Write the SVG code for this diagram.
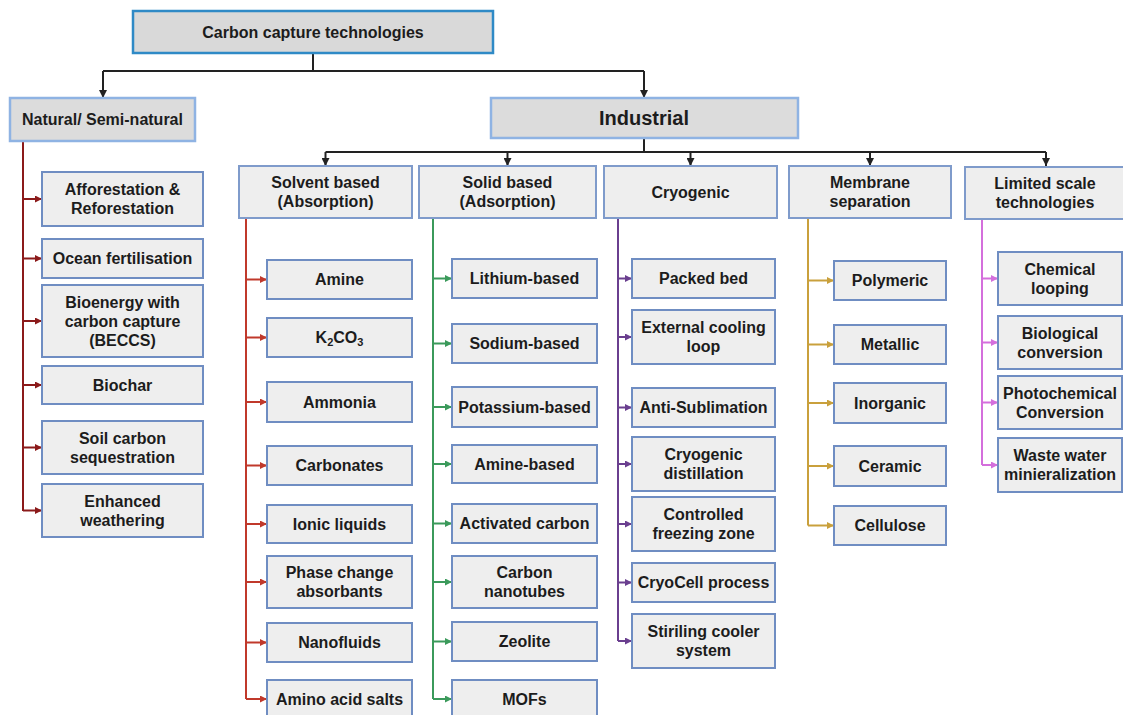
<svg xmlns="http://www.w3.org/2000/svg" width="1123" height="715" viewBox="0 0 1123 715">
<style>
text{font-family:"Liberation Sans",Arial,sans-serif;font-weight:bold;fill:#1c1c1c;text-anchor:middle;font-size:16px}
.leaf{fill:#eeeeee;stroke:#6f8dc2;stroke-width:2}
.sub{fill:#eeeeee;stroke:#7f9bcb;stroke-width:2}
.top{fill:#d9d9d9;stroke:#2f8ac6;stroke-width:2.5}
.main{fill:#dcdcdc;stroke:#8fb3e3;stroke-width:2.5}
.c{fill:none;stroke-width:2}
.k{stroke:#222;marker-end:url(#ak)}
.kl{stroke:#222}
.nr{stroke:#8b1a1a}.nra{stroke:#8b1a1a;marker-end:url(#anr)}
.sv{stroke:#c0392b}.sva{stroke:#c0392b;marker-end:url(#asv)}
.sd{stroke:#3b9a5b}.sda{stroke:#3b9a5b;marker-end:url(#asd)}
.cy{stroke:#6a3f8f}.cya{stroke:#6a3f8f;marker-end:url(#acy)}
.mb{stroke:#c9a03c}.mba{stroke:#c9a03c;marker-end:url(#amb)}
.ls{stroke:#d46fdc}.lsa{stroke:#d46fdc;marker-end:url(#als)}
</style>
<defs>
<marker id="ak" markerUnits="userSpaceOnUse" markerWidth="8" markerHeight="8" refX="8" refY="4" orient="auto"><path d="M0,0 L8,4 L0,8 z" fill="#222"/></marker>
<marker id="anr" markerUnits="userSpaceOnUse" markerWidth="7" markerHeight="7" refX="7" refY="3.5" orient="auto"><path d="M0,0 L7,3.5 L0,7 z" fill="#8b1a1a"/></marker>
<marker id="asv" markerUnits="userSpaceOnUse" markerWidth="7" markerHeight="7" refX="7" refY="3.5" orient="auto"><path d="M0,0 L7,3.5 L0,7 z" fill="#c0392b"/></marker>
<marker id="asd" markerUnits="userSpaceOnUse" markerWidth="7" markerHeight="7" refX="7" refY="3.5" orient="auto"><path d="M0,0 L7,3.5 L0,7 z" fill="#3b9a5b"/></marker>
<marker id="acy" markerUnits="userSpaceOnUse" markerWidth="7" markerHeight="7" refX="7" refY="3.5" orient="auto"><path d="M0,0 L7,3.5 L0,7 z" fill="#6a3f8f"/></marker>
<marker id="amb" markerUnits="userSpaceOnUse" markerWidth="7" markerHeight="7" refX="7" refY="3.5" orient="auto"><path d="M0,0 L7,3.5 L0,7 z" fill="#c9a03c"/></marker>
<marker id="als" markerUnits="userSpaceOnUse" markerWidth="7" markerHeight="7" refX="7" refY="3.5" orient="auto"><path d="M0,0 L7,3.5 L0,7 z" fill="#d46fdc"/></marker>
</defs>
<rect width="1123" height="715" fill="#ffffff"/>

<g id="connectors">
<path class="c kl" d="M313,53 V71 M103,71 H644 M644,138 V152 M325.5,152 H1046"/>
<path class="c k" d="M103,71 V98"/>
<path class="c k" d="M644,71 V98"/>
<path class="c k" d="M325.5,152 V166"/>
<path class="c k" d="M507.5,152 V166"/>
<path class="c k" d="M690.5,152 V166"/>
<path class="c k" d="M870,152 V166"/>
<path class="c k" d="M1046,152 V166"/>
<path class="c nr" d="M23,141 V511"/>
<path class="c nra" d="M23,199 H42"/><path class="c nra" d="M23,258.5 H42"/><path class="c nra" d="M23,321 H42"/><path class="c nra" d="M23,385 H42"/><path class="c nra" d="M23,447.5 H42"/><path class="c nra" d="M23,510.5 H42"/>
<path class="c sv" d="M246,218 V699"/>
<path class="c sva" d="M246,279.5 H267"/><path class="c sva" d="M246,337.5 H267"/><path class="c sva" d="M246,402 H267"/><path class="c sva" d="M246,465.5 H267"/><path class="c sva" d="M246,524 H267"/><path class="c sva" d="M246,582 H267"/><path class="c sva" d="M246,642.5 H267"/><path class="c sva" d="M246,699 H267"/>
<path class="c sd" d="M433,218 V699"/>
<path class="c sda" d="M433,278.5 H452"/><path class="c sda" d="M433,343.5 H452"/><path class="c sda" d="M433,407 H452"/><path class="c sda" d="M433,464 H452"/><path class="c sda" d="M433,523.5 H452"/><path class="c sda" d="M433,582 H452"/><path class="c sda" d="M433,641.5 H452"/><path class="c sda" d="M433,699 H452"/>
<path class="c cy" d="M618,218 V641"/>
<path class="c cya" d="M618,278.5 H632"/><path class="c cya" d="M618,337 H632"/><path class="c cya" d="M618,407.5 H632"/><path class="c cya" d="M618,464 H632"/><path class="c cya" d="M618,524 H632"/><path class="c cya" d="M618,582.5 H632"/><path class="c cya" d="M618,641 H632"/>
<path class="c mb" d="M808,218 V525.5"/>
<path class="c mba" d="M808,280.5 H834"/><path class="c mba" d="M808,344.5 H834"/><path class="c mba" d="M808,403 H834"/><path class="c mba" d="M808,466 H834"/><path class="c mba" d="M808,525.5 H834"/>
<path class="c ls" d="M982,219 V465"/>
<path class="c lsa" d="M982,278.5 H998"/><path class="c lsa" d="M982,342.5 H998"/><path class="c lsa" d="M982,402.5 H998"/><path class="c lsa" d="M982,465 H998"/>
</g>

<g id="n-root"><rect class="top" x="133" y="11" width="360" height="42"/><text x="313" y="37.5">Carbon capture technologies</text></g>
<g id="n-natural"><rect class="main" x="10" y="98" width="185" height="43"/><text x="102.5" y="125">Natural/ Semi-natural</text></g>
<g id="n-industrial"><rect class="main" x="491" y="98" width="307" height="40"/><text x="644" y="125" style="font-size:20px">Industrial</text></g>

<g id="n-solvent"><rect class="sub" x="239" y="166" width="173" height="52"/><text x="325.5" y="188">Solvent based</text><text x="325.5" y="207">(Absorption)</text></g>
<g id="n-solid"><rect class="sub" x="419" y="166" width="177" height="52"/><text x="507.5" y="188">Solid based</text><text x="507.5" y="207">(Adsorption)</text></g>
<g id="n-cryogenic"><rect class="sub" x="604" y="166" width="173" height="52"/><text x="690.5" y="197.5">Cryogenic</text></g>
<g id="n-membrane"><rect class="sub" x="789" y="166" width="162" height="52"/><text x="870" y="188">Membrane</text><text x="870" y="207">separation</text></g>
<g id="n-limited"><rect class="sub" x="965" y="167" width="162" height="52"/><text x="1045" y="189">Limited scale</text><text x="1045" y="208">technologies</text></g>

<g id="n-afforestation"><rect class="leaf" x="42" y="172" width="161" height="54"/><text x="122.5" y="195">Afforestation &amp;</text><text x="122.5" y="214">Reforestation</text></g>
<g id="n-ocean"><rect class="leaf" x="42" y="239" width="161" height="39"/><text x="122.5" y="264">Ocean fertilisation</text></g>
<g id="n-beccs"><rect class="leaf" x="42" y="285" width="161" height="72"/><text x="122.5" y="307.5">Bioenergy with</text><text x="122.5" y="326.5">carbon capture</text><text x="122.5" y="345.5">(BECCS)</text></g>
<g id="n-biochar"><rect class="leaf" x="42" y="366" width="161" height="38"/><text x="122.5" y="390.5">Biochar</text></g>
<g id="n-soil"><rect class="leaf" x="42" y="421" width="161" height="53"/><text x="122.5" y="443.5">Soil carbon</text><text x="122.5" y="462.5">sequestration</text></g>
<g id="n-weathering"><rect class="leaf" x="42" y="484" width="161" height="53"/><text x="122.5" y="506.5">Enhanced</text><text x="122.5" y="525.5">weathering</text></g>

<g id="n-amine"><rect class="leaf" x="267" y="260" width="145" height="39"/><text x="339.5" y="285">Amine</text></g>
<g id="n-k2co3"><rect class="leaf" x="267" y="318" width="145" height="39"/><text x="339.5" y="343">K<tspan dy="3" style="font-size:11px">2</tspan><tspan dy="-3">CO</tspan><tspan dy="3" style="font-size:11px">3</tspan></text></g>
<g id="n-ammonia"><rect class="leaf" x="267" y="382" width="145" height="40"/><text x="339.5" y="407.5">Ammonia</text></g>
<g id="n-carbonates"><rect class="leaf" x="267" y="446" width="145" height="39"/><text x="339.5" y="471">Carbonates</text></g>
<g id="n-ionic"><rect class="leaf" x="267" y="505" width="145" height="38"/><text x="339.5" y="529.5">Ionic liquids</text></g>
<g id="n-phase"><rect class="leaf" x="267" y="556" width="145" height="52"/><text x="339.5" y="578">Phase change</text><text x="339.5" y="597">absorbants</text></g>
<g id="n-nanofluids"><rect class="leaf" x="267" y="623" width="145" height="39"/><text x="339.5" y="648">Nanofluids</text></g>
<g id="n-aminoacid"><rect class="leaf" x="267" y="680" width="145" height="40"/><text x="339.5" y="704.5">Amino acid salts</text></g>

<g id="n-lithium"><rect class="leaf" x="452" y="259" width="145" height="39"/><text x="524.5" y="284">Lithium-based</text></g>
<g id="n-sodium"><rect class="leaf" x="452" y="324" width="145" height="39"/><text x="524.5" y="349">Sodium-based</text></g>
<g id="n-potassium"><rect class="leaf" x="452" y="387" width="145" height="40"/><text x="524.5" y="412.5">Potassium-based</text></g>
<g id="n-aminebased"><rect class="leaf" x="452" y="445" width="145" height="38"/><text x="524.5" y="469.5">Amine-based</text></g>
<g id="n-activated"><rect class="leaf" x="452" y="504" width="145" height="39"/><text x="524.5" y="529">Activated carbon</text></g>
<g id="n-nanotubes"><rect class="leaf" x="452" y="556" width="145" height="52"/><text x="524.5" y="578">Carbon</text><text x="524.5" y="597">nanotubes</text></g>
<g id="n-zeolite"><rect class="leaf" x="452" y="622" width="145" height="39"/><text x="524.5" y="647">Zeolite</text></g>
<g id="n-mofs"><rect class="leaf" x="452" y="680" width="145" height="40"/><text x="524.5" y="704.5">MOFs</text></g>

<g id="n-packed"><rect class="leaf" x="632" y="259" width="143" height="39"/><text x="703.5" y="284">Packed bed</text></g>
<g id="n-external"><rect class="leaf" x="632" y="310" width="143" height="54"/><text x="703.5" y="333">External cooling</text><text x="703.5" y="352">loop</text></g>
<g id="n-antisub"><rect class="leaf" x="632" y="388" width="143" height="39"/><text x="703.5" y="413">Anti-Sublimation</text></g>
<g id="n-distillation"><rect class="leaf" x="632" y="437" width="143" height="54"/><text x="703.5" y="460">Cryogenic</text><text x="703.5" y="479">distillation</text></g>
<g id="n-freezing"><rect class="leaf" x="632" y="497" width="143" height="54"/><text x="703.5" y="520">Controlled</text><text x="703.5" y="539">freezing zone</text></g>
<g id="n-cryocell"><rect class="leaf" x="632" y="563" width="143" height="39"/><text x="703.5" y="588">CryoCell process</text></g>
<g id="n-stirling"><rect class="leaf" x="632" y="614" width="143" height="54"/><text x="703.5" y="637">Stiriling cooler</text><text x="703.5" y="656">system</text></g>

<g id="n-polymeric"><rect class="leaf" x="834" y="261" width="112" height="39"/><text x="890" y="286">Polymeric</text></g>
<g id="n-metallic"><rect class="leaf" x="834" y="325" width="112" height="39"/><text x="890" y="350">Metallic</text></g>
<g id="n-inorganic"><rect class="leaf" x="834" y="383" width="112" height="40"/><text x="890" y="408.5">Inorganic</text></g>
<g id="n-ceramic"><rect class="leaf" x="834" y="446" width="112" height="40"/><text x="890" y="471.5">Ceramic</text></g>
<g id="n-cellulose"><rect class="leaf" x="834" y="506" width="112" height="39"/><text x="890" y="531">Cellulose</text></g>

<g id="n-chemical"><rect class="leaf" x="998" y="252" width="124" height="53"/><text x="1060" y="274.5">Chemical</text><text x="1060" y="293.5">looping</text></g>
<g id="n-biological"><rect class="leaf" x="998" y="316" width="124" height="53"/><text x="1060" y="338.5">Biological</text><text x="1060" y="357.5">conversion</text></g>
<g id="n-photochemical"><rect class="leaf" x="998" y="376" width="124" height="53"/><text x="1060" y="398.5">Photochemical</text><text x="1060" y="417.5">Conversion</text></g>
<g id="n-wastewater"><rect class="leaf" x="998" y="438" width="124" height="54"/><text x="1060" y="461">Waste water</text><text x="1060" y="480">minieralization</text></g>
</svg>
